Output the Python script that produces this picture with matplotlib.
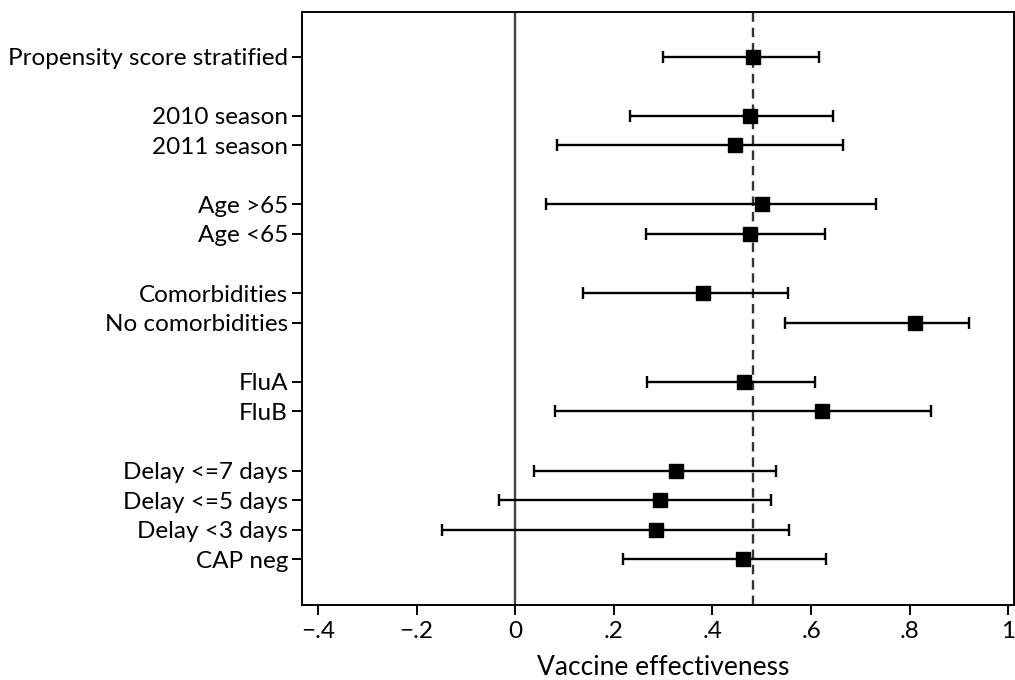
import numpy as np
import matplotlib

matplotlib.use("Agg")
import matplotlib.pyplot as plt

plt.rcParams.update({
    "font.family": ["Lato", "DejaVu Sans"],
    "font.size": 17.5,
})

# subgroup labels, row positions (gaps between groups), estimates and CIs
labels = [
    "Propensity score stratified",
    "2010 season", "2011 season",
    "Age >65", "Age <65",
    "Comorbidities", "No comorbidities",
    "FluA", "FluB",
    "Delay <=7 days", "Delay <=5 days", "Delay <3 days", "CAP neg",
]
rows = [1, 3, 4, 6, 7, 9, 10, 12, 13, 15, 16, 17, 18]
ve = [0.482, 0.477, 0.446, 0.500, 0.477, 0.380, 0.811, 0.464, 0.622, 0.327, 0.294, 0.285, 0.462]
lo = [0.300, 0.233, 0.085, 0.062, 0.265, 0.138, 0.548, 0.267, 0.081, 0.038, -0.033, -0.148, 0.219]
hi = [0.616, 0.644, 0.665, 0.732, 0.629, 0.554, 0.920, 0.608, 0.844, 0.529, 0.518, 0.555, 0.630]
overall = 0.482

xticks = [-0.4, -0.2, 0, 0.2, 0.4, 0.6, 0.8, 1]
xticklabels = ["\u2212.4", "\u2212.2", "0", ".2", ".4", ".6", ".8", "1"]

fig = plt.figure(figsize=(10.15, 6.8), dpi=100)
ax = fig.add_axes([0.2975, 0.1107, 0.7015, 0.8717])

ve = np.array(ve)
lo = np.array(lo)
hi = np.array(hi)
ax.axvline(0, color="#444444", lw=1.7, zorder=1)
ax.axvline(overall, color="#333333", lw=1.7, ls=(0, (4, 2.5)), zorder=1)
ax.errorbar(ve, rows, xerr=[ve - lo, hi - ve], fmt="s", color="black",
            ms=9.5, ecolor="black", elinewidth=1.7, capsize=4.6, capthick=1.7, zorder=3)

ax.set_xlim(-0.4325, 1.0115)
ax.set_ylim(19.54, -0.51)
ax.set_yticks(rows)
ax.set_yticklabels(labels)
ax.set_xticks(xticks)
ax.set_xticklabels(xticklabels)
ax.tick_params(axis="y", length=7, width=1.4, pad=3)
ax.tick_params(axis="x", length=7, width=1.4, pad=5)
for s in ax.spines.values():
    s.set_linewidth(1.4)
ax.set_xlabel("Vaccine effectiveness", fontsize=19)
ax.xaxis.set_label_coords(0.508, -0.084)

fig.savefig("out.png", dpi=100)
